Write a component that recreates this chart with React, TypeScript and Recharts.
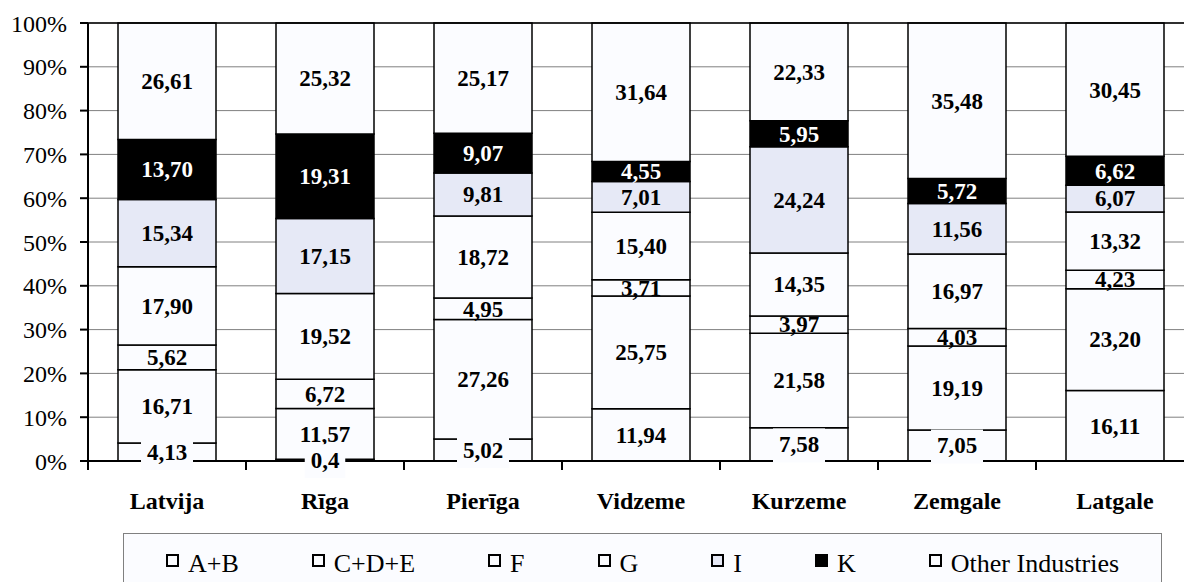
import React from 'react';
import { BarChart, Bar, XAxis, YAxis, CartesianGrid, LabelList, ReferenceLine } from 'recharts';

const regions = ['Latvija', 'Rīga', 'Pierīga', 'Vidzeme', 'Kurzeme', 'Zemgale', 'Latgale'];
const abValues = [4.13, 0.4, 5.02, 11.94, 7.58, 7.05, 16.11];
const cdeValues = [16.71, 11.57, 27.26, 25.75, 21.58, 19.19, 23.2];
const fValues = [5.62, 6.72, 4.95, 3.71, 3.97, 4.03, 4.23];
const gValues = [17.9, 19.52, 18.72, 15.4, 14.35, 16.97, 13.32];
const iValues = [15.34, 17.15, 9.81, 7.01, 24.24, 11.56, 6.07];
const kValues = [13.7, 19.31, 9.07, 4.55, 5.95, 5.72, 6.62];
const otherValues = [26.61, 25.32, 25.17, 31.64, 22.33, 35.48, 30.45];
const yTicks = [0, 0.1, 0.2, 0.3, 0.4, 0.5, 0.6, 0.7, 0.8, 0.9, 1];

const WHITE = '#fbfcff';
const SERIF = "'Liberation Serif', 'Times New Roman', Times, 'DejaVu Serif', 'Noto Serif', serif";

const series = [
  { key: 'ab', name: 'A+B', values: abValues, fill: WHITE, text: '#000' },
  { key: 'cde', name: 'C+D+E', values: cdeValues, fill: WHITE, text: '#000' },
  { key: 'f', name: 'F', values: fValues, fill: WHITE, text: '#000' },
  { key: 'g', name: 'G', values: gValues, fill: WHITE, text: '#000' },
  { key: 'i', name: 'I', values: iValues, fill: '#e6e9f6', text: '#000' },
  { key: 'k', name: 'K', values: kValues, fill: '#000000', text: '#ffffff' },
  { key: 'other', name: 'Other Industries', values: otherValues, fill: WHITE, text: '#000' },
];

const data = regions.map((name, idx) => {
  const row: Record<string, any> = { name };
  series.forEach((s) => {
    row[s.key] = s.values[idx];
  });
  return row;
});

const fmt = (v: number) => (v < 1 ? v.toFixed(1) : v.toFixed(2)).replace('.', ',');
const LABEL_SIZE = 23;

const box = (props: any) => {
  const vb = props.viewBox && props.viewBox.width !== undefined ? props.viewBox : props;
  return { x: Number(vb.x), y: Number(vb.y), w: Number(vb.width), h: Number(vb.height) };
};

// center label in each segment
const makeLabel = (s: typeof series[number]) => (props: any) => {
  const { x, y, w, h } = box(props);
  const v = s.values[props.index];
  if (v === undefined) return null;
  return (
    <text
      x={x + w / 2}
      y={y + h / 2 + LABEL_SIZE * 0.34}
      textAnchor="middle"
      style={{ fontFamily: SERIF }}
      fontWeight="bold"
      fontSize={LABEL_SIZE}
      fill={s.text}
    >
      {fmt(v)}
    </text>
  );
};

// A+B labels sit on white boxes above every other bar, so they are drawn from the last series
const abLabel = (props: any) => {
  const { x, y, w, h } = box(props);
  const idx = props.index;
  const total = series.reduce((acc, s) => acc + s.values[idx], 0);
  const full = h / (otherValues[idx] / total);
  const bottom = y + full;
  const cy = bottom - (abValues[idx] / total / 2) * full;
  const txt = fmt(abValues[idx]);
  const bw = txt.length * 11.5 + 6;
  return (
    <g>
      <rect x={x + w / 2 - bw / 2} y={cy - 16} width={bw} height={34} fill={WHITE} />
      <text
        x={x + w / 2}
        y={cy + LABEL_SIZE * 0.34}
        textAnchor="middle"
        style={{ fontFamily: SERIF }}
        fontWeight="bold"
        fontSize={LABEL_SIZE}
        fill="#000"
      >
        {txt}
      </text>
    </g>
  );
};

const CategoryTick = (props: any) => {
  const { x, y, payload, index, visibleTicksCount, width } = props;
  let half = payload && payload.offset > 0 ? payload.offset : 0;
  if (!half && width && visibleTicksCount) half = width / visibleTicksCount / 2;
  const last = index === visibleTicksCount - 1;
  return (
    <g>
      <line x1={x - half} x2={x - half} y1={y} y2={y + 9} stroke="#000" strokeWidth={2} />
      {last && <line x1={x + half} x2={x + half} y1={y} y2={y + 9} stroke="#000" strokeWidth={2} />}
      <text x={x} y={y + 48} textAnchor="middle" style={{ fontFamily: SERIF }} fontWeight="bold" fontSize={24} fill="#000">
        {payload.value}
      </text>
    </g>
  );
};

const App: React.FC = () => {
  return (
    <div style={{ position: 'relative', width: 1184, height: 582, overflow: 'hidden', background: '#fff', fontFamily: SERIF }}>
      <style>{'body{margin:0}'}</style>
      <BarChart
        width={1200}
        height={582}
        data={data}
        stackOffset="expand"
        barSize={98}
        margin={{ top: 23, right: 6, left: 0, bottom: 61 }}
      >
        <CartesianGrid vertical={false} stroke="#808080" strokeWidth={1} />
        <XAxis
          dataKey="name"
          height={60}
          tickLine={false}
          tickSize={0}
          tickMargin={0}
          axisLine={{ stroke: '#000', strokeWidth: 2 }}
          tick={<CategoryTick />}
          interval={0}
        />
        <YAxis
          width={88}
          domain={[0, 1]}
          ticks={yTicks}
          tickFormatter={(v: number) => `${Math.round(v * 100)}%`}
          axisLine={{ stroke: '#000', strokeWidth: 2 }}
          tickLine={{ stroke: '#000', strokeWidth: 2 }}
          tickSize={8}
          tickMargin={13}
          tick={{ fontSize: 24, fill: '#000', style: { fontFamily: SERIF } }}
        />
        <ReferenceLine y={1} stroke="#000" strokeWidth={1.5} />
        {series.map((s) => (
          <Bar
            key={s.key}
            dataKey={s.key}
            name={s.name}
            stackId="a"
            fill={s.fill}
            stroke="#000"
            strokeWidth={1.5}
            isAnimationActive={false}
          >
            {s.key !== 'ab' && <LabelList dataKey={s.key} content={makeLabel(s)} />}
            {s.key === 'other' && <LabelList dataKey={s.key} content={abLabel} />}
          </Bar>
        ))}
      </BarChart>
      <div
        style={{
          position: 'absolute',
          left: 123,
          top: 533,
          width: 1039,
          height: 60,
          border: '1px solid #808080',
          borderBottom: 'none',
          boxSizing: 'border-box',
          background: WHITE,
          display: 'flex',
          alignItems: 'center',
          paddingLeft: 42,
          fontFamily: SERIF,
          fontSize: 26,
          lineHeight: '26px',
          color: '#000',
          whiteSpace: 'nowrap',
        }}
      >
        {series.map((s) => (
          <div key={s.key} style={{ display: 'flex', alignItems: 'center', marginRight: 73, flexShrink: 0 }}>
            <span
              style={{
                display: 'inline-block',
                width: 13,
                height: 13,
                border: '2px solid #000',
                boxSizing: 'border-box',
                background: s.fill,
                marginRight: 9,
                position: 'relative',
                top: -3,
              }}
            />
            <span>{s.name}</span>
          </div>
        ))}
      </div>
    </div>
  );
};

export default App;
